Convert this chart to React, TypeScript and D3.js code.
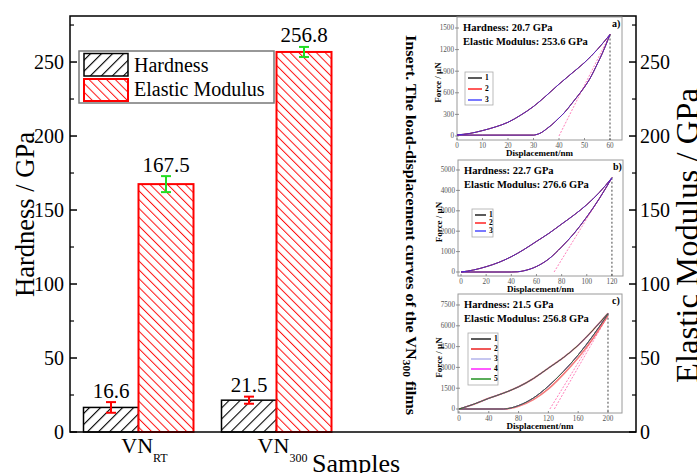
import React from 'react';
import * as d3 from 'd3';

// ---------- main chart data ----------
const categories = ['RT', '300'];
const hardness = [16.6, 21.5];
const hardnessErr = [3.6, 2.4];
const modulus = [167.5, 256.8];
const modulusErr = [5.4, 3.4];
const majorTicks = [0, 50, 100, 150, 200, 250];
const minorTicks = [25, 75, 125, 175, 225, 275];
const legendLabels = ['Hardness', 'Elastic Modulus'];

// ---------- inset data (displacement nm, force uN) ----------
const loadA: [number, number][] = [[0, 15], [5, 35], [10, 75], [15, 125], [20, 190], [25, 290], [30, 410], [35, 560], [40, 720], [45, 870], [50, 1020], [55, 1200], [60, 1410]];
const unloadA: [number, number][] = [[0, 12], [10, 12], [20, 12], [30, 12], [31, 18], [33, 45], [35, 95], [37, 150], [40, 250], [42, 320], [45, 450], [47, 540], [50, 680], [52, 790], [55, 1000], [57, 1150], [60, 1410]];
const tangentA: [number, number][] = [[40, 0], [60, 1410]];
const xTicksA = [0, 10, 20, 30, 40, 50, 60];
const yTicksA = [0, 300, 600, 900, 1200, 1500];

const loadB: [number, number][] = [[0, 0], [10, 100], [20, 260], [30, 470], [40, 750], [50, 1100], [60, 1500], [70, 1900], [80, 2350], [90, 2800], [100, 3300], [110, 3900], [120, 4620]];
const unloadB: [number, number][] = [[0, 0], [40, 0], [45, 10], [50, 60], [60, 270], [70, 650], [80, 1230], [90, 1900], [100, 2700], [110, 3600], [120, 4620]];
const tangentB: [number, number][] = [[74, 0], [120, 4620]];
const xTicksB = [0, 20, 40, 60, 80, 100, 120];
const yTicksB = [0, 1000, 2000, 3000, 4000, 5000];

const loadC: [number, number][] = [[0, 0], [20, 350], [40, 770], [60, 1150], [80, 1600], [100, 2200], [120, 2950], [140, 3700], [160, 4600], [180, 5700], [200, 6900]];
const unloadC: [number, number][] = [[0, 0], [60, 0], [70, 80], [80, 250], [100, 800], [120, 1650], [140, 2700], [160, 3900], [180, 5300], [200, 6850]];
const unloadC2: [number, number][] = [[0, 0], [60, 0], [70, 60], [80, 200], [100, 680], [120, 1450], [140, 2500], [160, 3700], [180, 5100], [200, 6750]];
const tangentC: [number, number][] = [[122, 0], [200, 6850]];
const tangentC2: [number, number][] = [[128, 0], [200, 6750]];
const xTicksC = [0, 40, 80, 120, 160, 200];
const yTicksC = [0, 1500, 3000, 4500, 6000, 7500];

const panelTags = ['a)', 'b)', 'c)'];
const panelHardness = ['Hardness: 20.7 GPa', 'Hardness: 22.7 GPa', 'Hardness: 21.5 GPa'];
const panelModulus = ['Elastic Modulus: 253.6 GPa', 'Elastic Modulus: 276.6 GPa', 'Elastic Modulus: 256.8 GPa'];
const peakDisp = [60, 120, 200];
const peakForce = [1410, 4620, 6870];

const SERIF = '"Liberation Serif", "Times New Roman", Times, serif';

type Pt = [number, number];
interface Series { color: string; width: number; load: Pt[]; unload: Pt[]; label: string }

const panels = [
  {
    frame: { x0: 457, x1: 622, y0: 17, y1: 140 }, xDomain: [0, 64.7], yDomain: [-56, 1653],
    xTicks: xTicksA, yTicks: yTicksA, tangents: [tangentA],
    legend: { x: 465, y: 72, w: 28, h: 33, row: 11, line: 14 },
    series: [
      { color: '#000000', width: 1, load: loadA, unload: unloadA, label: '1' },
      { color: '#ff0000', width: 1, load: loadA, unload: unloadA, label: '2' },
      { color: '#3030ff', width: 1, load: loadA, unload: unloadA, label: '3' },
    ] as Series[],
  },
  {
    frame: { x0: 458, x1: 623, y0: 160, y1: 276 }, xDomain: [-2.4, 128.8], yDomain: [-196, 5490],
    xTicks: xTicksB, yTicks: yTicksB, tangents: [tangentB],
    legend: { x: 472, y: 209, w: 21, h: 28, row: 8, line: 11 },
    series: [
      { color: '#000000', width: 1, load: loadB, unload: unloadB, label: '1' },
      { color: '#ff0000', width: 1, load: loadB, unload: unloadB, label: '2' },
      { color: '#3030ff', width: 1, load: loadB, unload: unloadB, label: '3' },
    ] as Series[],
  },
  {
    frame: { x0: 458, x1: 622, y0: 294, y1: 413 }, xDomain: [-1.3, 218.8], yDomain: [-288, 8293],
    xTicks: xTicksC, yTicks: yTicksC, tangents: [tangentC, tangentC2],
    legend: { x: 468, y: 333, w: 30, h: 52, row: 10, line: 20 },
    series: [
      { color: '#000000', width: 1, load: loadC, unload: unloadC, label: '1' },
      { color: '#f05050', width: 1.6, load: loadC, unload: unloadC2, label: '2' },
      { color: '#a8a8e8', width: 1, load: loadC, unload: unloadC, label: '3' },
      { color: '#ff00ff', width: 1, load: loadC, unload: unloadC, label: '4' },
      { color: '#008000', width: 1, load: loadC, unload: unloadC, label: '5' },
    ] as Series[],
  },
];

function Inset({ p, i }: { p: typeof panels[number]; i: number }) {
  const f = p.frame;
  const xs = d3.scaleLinear().domain(p.xDomain).range([f.x0, f.x1]);
  const ys = d3.scaleLinear().domain(p.yDomain).range([f.y1, f.y0]);
  const line = d3.line<Pt>().x(d => xs(d[0])).y(d => ys(d[1])).curve(d3.curveMonotoneX);
  const straight = d3.line<Pt>().x(d => xs(d[0])).y(d => ys(d[1]));
  const clipId = `clip${i}`;
  const lg = p.legend;
  return (
    <g fontFamily={SERIF}>
      <defs>
        <clipPath id={clipId}><rect x={f.x0} y={f.y0} width={f.x1 - f.x0} height={f.y1 - f.y0} /></clipPath>
      </defs>
      <rect x={f.x0} y={f.y0} width={f.x1 - f.x0} height={f.y1 - f.y0} fill="#fff" stroke="#9a9a9a" strokeWidth={1} />
      {p.yTicks.map(t => (
        <g key={'y' + t}>
          <line x1={f.x0 - 2} x2={f.x0 + 2} y1={ys(t)} y2={ys(t)} stroke="#777" strokeWidth={0.8} />
          <text x={f.x0 - 3} y={ys(t)} dy="0.33em" textAnchor="end" fontSize={7.2} fill="#555">{t}</text>
        </g>
      ))}
      {p.xTicks.map(t => (
        <g key={'x' + t}>
          <line x1={xs(t)} x2={xs(t)} y1={f.y1} y2={f.y1 - 2} stroke="#777" strokeWidth={0.8} />
          <text x={xs(t)} y={f.y1 + 7.5} textAnchor="middle" fontSize={7.2} fill="#555">{t}</text>
        </g>
      ))}
      <text x={(f.x0 + f.x1) / 2} y={f.y1 + 16} textAnchor="middle" fontSize={9} fontWeight="bold">Displacement/nm</text>
      <text transform={`translate(${f.x0 - 16},${(f.y0 + f.y1) / 2 + 4}) rotate(-90)`} textAnchor="middle" fontSize={9} fontWeight="bold">Force / μN</text>
      <g clipPath={`url(#${clipId})`}>
        <line x1={xs(peakDisp[i])} x2={xs(peakDisp[i])} y1={ys(peakForce[i])} y2={f.y1} stroke="#333" strokeWidth={0.9} strokeDasharray="2,2" />
        {p.tangents.map((t, k) => (
          <path key={'t' + k} d={straight(t) || ''} fill="none" stroke="#ff5fa8" strokeWidth={0.8} strokeDasharray="2,1.5" />
        ))}
        {p.series.map((s, k) => (
          <g key={'s' + k} stroke={s.color} strokeWidth={s.width} fill="none" strokeOpacity={0.75}>
            <path d={line(s.load) || ''} />
            <path d={line(s.unload) || ''} />
          </g>
        ))}
      </g>
      <text x={f.x0 + 6} y={f.y0 + 14} fontSize={10.5} fontWeight="bold">{panelHardness[i]}</text>
      <text x={f.x0 + 6} y={f.y0 + 27.5} fontSize={10.5} fontWeight="bold">{panelModulus[i]}</text>
      <text x={f.x1 - 10} y={f.y0 + 10} fontSize={10} fontWeight="bold">{panelTags[i]}</text>
      <rect x={lg.x} y={lg.y} width={lg.w} height={lg.h} fill="#fff" stroke="#aaa" strokeWidth={0.8} />
      {p.series.map((s, k) => {
        const yy = lg.y + 6 + k * lg.row;
        return (
          <g key={'l' + k}>
            <line x1={lg.x + 3} x2={lg.x + 3 + lg.line} y1={yy} y2={yy} stroke={s.color} strokeWidth={s.width + 0.3} />
            <text x={lg.x + 6 + lg.line} y={yy} dy="0.33em" fontSize={7.5} fontWeight="bold">{s.label}</text>
          </g>
        );
      })}
    </g>
  );
}

export default function App() {
  const W = 697, H = 473;
  const left = 70, right = 636, top = 16, bottom = 432;
  const y = d3.scaleLinear().domain([0, 281.1]).range([bottom, top]);
  const yR = d3.scaleLinear().domain([0, 281.1]).range([bottom, top]);
  const x = d3.scalePoint<string>().domain(categories).range([138.5, 276.5]);
  const barW = 55;

  return (
    <svg width={W} height={H} style={{ position: 'absolute', left: 0, top: 0, background: '#fff' }} fontFamily={SERIF}>
      <defs>
        <pattern id="hatchBlack" width={7.8} height={7.8} patternUnits="userSpaceOnUse" patternTransform="rotate(45)">
          <rect width={7.8} height={7.8} fill="#fff" />
          <line x1={0} y1={0} x2={0} y2={7.8} stroke="#000" strokeWidth={2.2} />
        </pattern>
        <pattern id="hatchRed" width={6.2} height={6.2} patternUnits="userSpaceOnUse" patternTransform="rotate(-45)">
          <rect width={6.2} height={6.2} fill="#fff" />
          <line x1={0} y1={0} x2={0} y2={6.2} stroke="#ff1010" strokeWidth={2} />
        </pattern>
      </defs>
      <rect width={W} height={H} fill="#fff" />

      {/* bars */}
      {categories.map((c, i) => {
        const cx = x(c) as number;
        return (
          <g key={c}>
            <rect x={cx - barW} y={y(hardness[i])} width={barW} height={bottom - y(hardness[i])} fill="url(#hatchBlack)" stroke="#000" strokeWidth={1.5} />
            <rect x={cx} y={y(modulus[i])} width={barW} height={bottom - y(modulus[i])} fill="url(#hatchRed)" stroke="#ff0000" strokeWidth={2} />
          </g>
        );
      })}

      {/* error bars and value labels */}
      {categories.map((c, i) => {
        const cx = x(c) as number;
        const hx = cx - barW / 2, mx = cx + barW / 2;
        return (
          <g key={'e' + c}>
            <g stroke="#ff0000" strokeWidth={2}>
              <line x1={hx} x2={hx} y1={y(hardness[i] - hardnessErr[i])} y2={y(hardness[i] + hardnessErr[i])} />
              <line x1={hx - 5} x2={hx + 5} y1={y(hardness[i] - hardnessErr[i])} y2={y(hardness[i] - hardnessErr[i])} />
              <line x1={hx - 5} x2={hx + 5} y1={y(hardness[i] + hardnessErr[i])} y2={y(hardness[i] + hardnessErr[i])} />
            </g>
            <g stroke="#22dd22" strokeWidth={2}>
              <line x1={mx} x2={mx} y1={yR(modulus[i] - modulusErr[i])} y2={yR(modulus[i] + modulusErr[i])} />
              <line x1={mx - 5} x2={mx + 5} y1={yR(modulus[i] - modulusErr[i])} y2={yR(modulus[i] - modulusErr[i])} />
              <line x1={mx - 5} x2={mx + 5} y1={yR(modulus[i] + modulusErr[i])} y2={yR(modulus[i] + modulusErr[i])} />
            </g>
            <text x={hx} y={y(hardness[i] + hardnessErr[i]) - 4.5} textAnchor="middle" fontSize={21}>{hardness[i].toFixed(1)}</text>
            <text x={mx} y={yR(modulus[i] + modulusErr[i]) - 4.5} textAnchor="middle" fontSize={21}>{modulus[i].toFixed(1)}</text>
          </g>
        );
      })}

      {/* frame */}
      <rect x={left} y={top} width={right - left} height={bottom - top} fill="none" stroke="#000" strokeWidth={1.5} />

      {/* left axis ticks */}
      {majorTicks.map(t => (
        <g key={'ml' + t}>
          <line x1={left} x2={left + 7} y1={y(t)} y2={y(t)} stroke="#000" strokeWidth={1.5} />
          <text x={left - 6} y={y(t)} dy="0.35em" textAnchor="end" fontSize={20}>{t}</text>
        </g>
      ))}
      {minorTicks.map(t => (
        <line key={'nl' + t} x1={left} x2={left + 4} y1={y(t)} y2={y(t)} stroke="#000" strokeWidth={1.2} />
      ))}
      {/* right axis ticks */}
      {majorTicks.map(t => (
        <g key={'mr' + t}>
          <line x1={right} x2={right - 7} y1={yR(t)} y2={yR(t)} stroke="#000" strokeWidth={1.5} />
          <text x={right + 4} y={yR(t)} dy="0.35em" textAnchor="start" fontSize={20}>{t}</text>
        </g>
      ))}
      {minorTicks.map(t => (
        <line key={'nr' + t} x1={right} x2={right - 4} y1={yR(t)} y2={yR(t)} stroke="#000" strokeWidth={1.2} />
      ))}

      {/* axis titles */}
      <text transform={`translate(34,214.5) rotate(-90)`} textAnchor="middle" fontSize={26.5} textLength={165} lengthAdjust="spacingAndGlyphs">Hardness / GPa</text>
      <text transform={`translate(698,235.5) rotate(-90)`} textAnchor="middle" fontSize={31} textLength={295} lengthAdjust="spacingAndGlyphs">Elastic Modulus / GPa</text>
      <text x={312} y={472} fontSize={26}>Samples</text>

      {/* category labels */}
      {categories.map(c => (
        <text key={'c' + c} x={(x(c) as number) + 6} y={453} textAnchor="middle" fontSize={22}>
          VN<tspan fontSize={12} dy={9}>{c}</tspan>
        </text>
      ))}

      {/* legend */}
      <rect x={79} y={51} width={195} height={52} fill="#fff" stroke="#777" strokeWidth={1.5} />
      <rect x={84} y={53.5} width={44} height={22.5} fill="url(#hatchBlack)" stroke="#000" strokeWidth={1.5} />
      <rect x={84} y={79} width={44} height={22} fill="url(#hatchRed)" stroke="#ff0000" strokeWidth={2} />
      <text x={134} y={72} fontSize={20}>{legendLabels[0]}</text>
      <text x={134} y={96} fontSize={20}>{legendLabels[1]}</text>

      {/* inset caption */}
      <text transform="translate(406,35) rotate(90)" fontSize={15.5} fontWeight="bold" textLength={380} lengthAdjust="spacingAndGlyphs">
        Insert. The load-displacement curves of the VN<tspan fontSize={11} dy={3}>300</tspan><tspan dy={-3}> films</tspan>
      </text>

      {panels.map((p, i) => <Inset key={i} p={p} i={i} />)}
    </svg>
  );
}
